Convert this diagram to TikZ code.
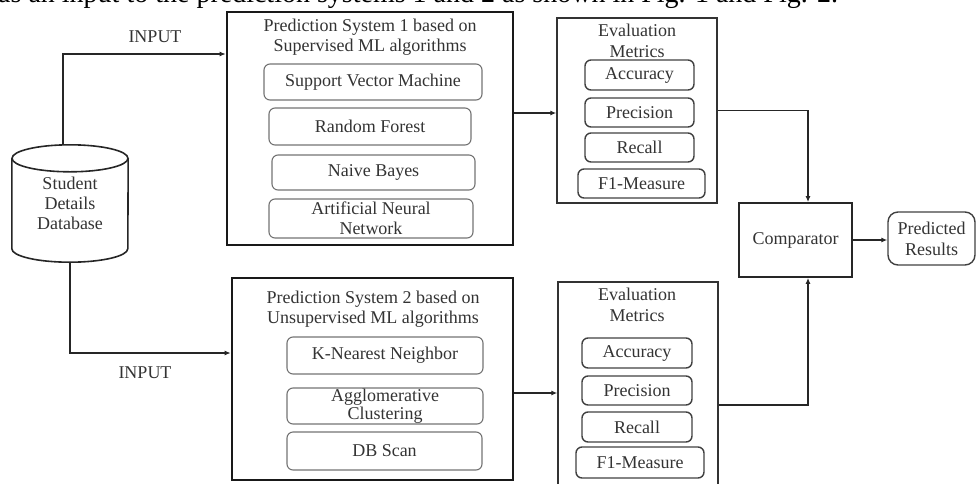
\documentclass[tikz,border=0pt]{standalone}
\usepackage{fontspec}
\setmainfont{Liberation Serif}
\usetikzlibrary{arrows.meta}

\begin{document}
\begin{tikzpicture}[x=1pt,y=-1pt,
   every node/.style={text=black!80, font=\fontsize{18}{21}\selectfont, align=center, inner sep=0pt},
   sysbox/.style={draw=black!90, line width=2.6pt},
   evalbox/.style={draw=black!80, line width=1.4pt},
   algo/.style={draw=black!55, line width=1.1pt, rounded corners=6pt},
   metric/.style={draw=black!75, line width=1.4pt, rounded corners=6pt},
   link/.style={draw=black!85, line width=1.4pt, -{Latex[length=6pt,width=5pt]}}]
   \useasboundingbox (0,0) rectangle (978,483);
   \clip (0,0) rectangle (978,483);

   \node[anchor=base west, text=black, font=\fontsize{28}{30}\selectfont] (caption) at (-2,2)
        {as an input to the prediction systems 1 and 2 as shown in Fig. 1 and Fig. 2.};

   \node[minimum width=116pt, minimum height=117pt] (db) at (70,203.5) {Student\\[-1pt]Details\\[-1pt]Database};
   \draw[black!85, line width=1.6pt] ([yshift=-13.5pt]db.north west) -- ([yshift=13.5pt]db.south west)
        arc[start angle=180, end angle=0, x radius=58, y radius=13.5] -- ([yshift=-13.5pt]db.north east);
   \draw[black!85, line width=1.6pt] ([yshift=-13.5pt]db.north) ellipse [x radius=58, y radius=13.5];

   \node[sysbox, minimum width=286pt, minimum height=233pt] (sys1) at (370,128.5) {};
   \node (sys1title) at (370,37) {Prediction System 1 based on\\[-1pt]Supervised ML algorithms};
   \node[algo, minimum width=218pt, minimum height=36pt] (svm) at (373,82) {Support Vector Machine};
   \node[algo, minimum width=202pt, minimum height=37pt] (rf) at (370,126.5) {Random Forest};
   \node[algo, minimum width=203pt, minimum height=35pt] (nb) at (373.5,172.5) {Naive Bayes};
   \node[algo, minimum width=204pt, minimum height=39pt] (ann) at (371,218.5) {Artificial Neural\\[-1pt]Network};

   \node[sysbox, minimum width=281pt, minimum height=202pt] (sys2) at (372.5,379) {};
   \node (sys2title) at (373,309) {Prediction System 2 based on\\[-1pt]Unsupervised ML algorithms};
   \node[algo, minimum width=196pt, minimum height=37pt] (knn) at (385,355.5) {K-Nearest Neighbor};
   \node[algo, minimum width=196pt, minimum height=36pt] (agg) at (385,406) {Agglomerative\\[-3pt]Clustering};
   \node[algo, minimum width=195pt, minimum height=38pt] (dbscan) at (384.5,451) {DB Scan};

   \node[evalbox, minimum width=160pt, minimum height=185pt] (eval1) at (637,110.5) {};
   \node (eval1title) at (637,41) {Evaluation\\Metrics};
   \node[metric, minimum width=109pt, minimum height=30pt] (acc1) at (639.5,75) {Accuracy};
   \node[metric, minimum width=109pt, minimum height=29pt] (pre1) at (639.5,112.5) {Precision};
   \node[metric, minimum width=109pt, minimum height=29pt] (rec1) at (639.5,147.5) {Recall};
   \node[metric, minimum width=127pt, minimum height=29pt] (fm1) at (641.5,183.5) {F1-Measure};

   \node[evalbox, minimum width=160pt, minimum height=218pt] (eval2) at (638,391) {};
   \node (eval2title) at (637,305) {Evaluation\\Metrics};
   \node[metric, minimum width=110pt, minimum height=30pt] (acc2) at (637,353) {Accuracy};
   \node[metric, minimum width=110pt, minimum height=29pt] (pre2) at (637,390.5) {Precision};
   \node[metric, minimum width=110pt, minimum height=30pt] (rec2) at (637,427) {Recall};
   \node[metric, minimum width=128pt, minimum height=31pt] (fm2) at (640,462.5) {F1-Measure};

   \node[draw=black!85, line width=1.8pt, minimum width=113pt, minimum height=74pt] (comp) at (795.5,240) {Comparator};
   \node[draw=black!75, line width=1.4pt, rounded corners=10pt, minimum width=87pt, minimum height=53pt] (pred) at (931.5,238.5) {Predicted\\Results};

   \node (in1) at (155,37) {INPUT};
   \node (in2) at (145,373) {INPUT};

   \coordinate (dbtop) at ([xshift=-7pt]db.north);
   \coordinate (s1in) at ([yshift=74.5pt]sys1.west);
   \coordinate (s2in) at ([yshift=26pt]sys2.west);
   \coordinate (s1out) at ([yshift=15.5pt]sys1.east);
   \coordinate (s2out) at ([yshift=-14pt]sys2.east);
   \coordinate (e2out) at ([yshift=-14pt]eval2.east);
   \coordinate (ctop) at ([xshift=12.5pt]comp.north);
   \coordinate (cbot) at ([xshift=12.5pt]comp.south);

   \draw[link] (dbtop) |- (s1in);
   \draw[link] (db.south) |- (s2in);
   \draw[link] (s1out) -- (s1out -| eval1.west);
   \draw[link] (s2out) -- (s2out -| eval2.west);
   \draw[link] (eval1.east) -| (ctop);
   \draw[link] (e2out) -| (cbot);
   \draw[link] (comp.east) -- (comp.east -| pred.west);
\end{tikzpicture}
\end{document}
